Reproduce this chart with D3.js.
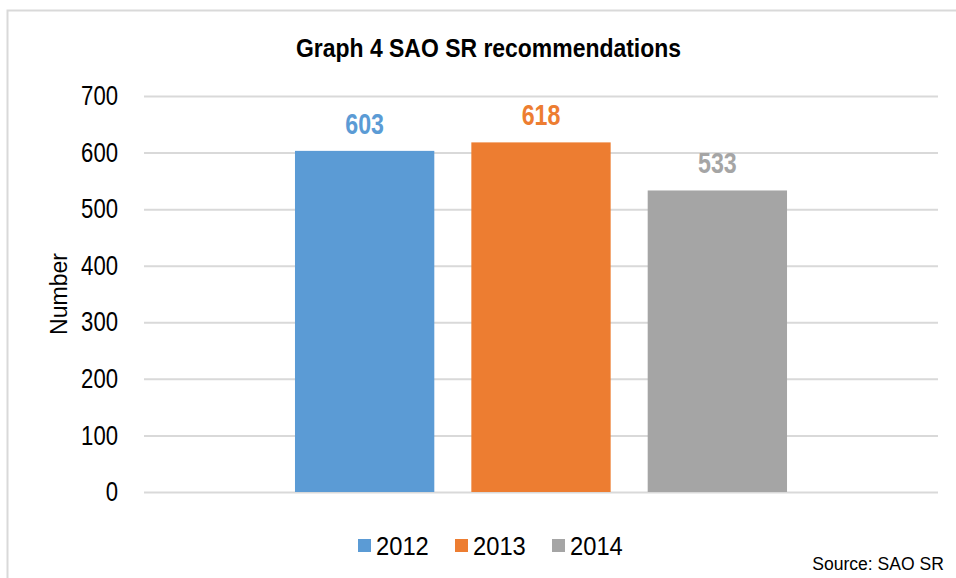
<!DOCTYPE html>
<html lang="en">
<head>
    <meta charset="UTF-8">
    <title>Graph 4 SAO SR recommendations</title>
    <script src="https://cdnjs.cloudflare.com/ajax/libs/d3/7.8.5/d3.min.js"></script>
    <style>
        body {
            margin: 0;
            background: white;
            font-family: "Liberation Sans", Arial, sans-serif;
        }
        .grid line { stroke: #d9d9d9; stroke-width: 2px; }
        .grid path { display: none; }
        .y-axis path, .y-axis line { display: none; }
        .y-axis text { font-size: 27px; fill: #000; }
    </style>
</head>
<body>
    <div id="chart"></div>

    <script>
        // data
        const years = ["2012", "2013", "2014"];
        const values = [603, 618, 533];
        const colors = ["#5b9bd5", "#ed7d31", "#a5a5a5"];
        const yTicks = [0, 100, 200, 300, 400, 500, 600, 700];

        const width = 956, height = 578;
        const margin = { top: 96, right: 18, bottom: 86, left: 144 };

        // the original uses a narrow font, so text gets squeezed horizontally
        const narrow = 0.82;

        const svg = d3.select("#chart")
            .append("svg")
            .attr("width", width)
            .attr("height", height);

        // outer frame (runs off the right and bottom of the image)
        svg.append("rect")
            .attr("x", 7.5)
            .attr("y", 10.5)
            .attr("width", width + 20)
            .attr("height", height + 20)
            .attr("fill", "none")
            .attr("stroke", "#d9d9d9")
            .attr("stroke-width", 2);

        const y = d3.scaleLinear()
            .domain([0, 700])
            .range([height - margin.bottom, margin.top]);

        // one category holding the three year series
        const xOuter = d3.scaleBand()
            .domain([""])
            .range([margin.left, width - margin.right])
            .padding(0.2348);

        const x = d3.scaleBand()
            .domain(years)
            .range([xOuter(""), xOuter("") + xOuter.bandwidth()])
            .paddingInner(0.21)
            .paddingOuter(0);

        // gridlines
        svg.append("g")
            .attr("class", "grid")
            .attr("transform", `translate(${margin.left},0)`)
            .call(d3.axisLeft(y).tickValues(yTicks)
                .tickSize(-(width - margin.left - margin.right)).tickFormat(""));

        // y axis labels
        svg.append("g")
            .attr("class", "y-axis")
            .attr("transform", `translate(${margin.left - 26},0)`)
            .call(d3.axisLeft(y).tickValues(yTicks).tickSize(0).tickPadding(0))
            .selectAll(".tick text")
            .attr("transform", `scale(${narrow},1)`);

        svg.append("text")
            .attr("transform", `translate(67, ${(y(0) + y(700)) / 2}) rotate(-90)`)
            .attr("text-anchor", "middle")
            .attr("font-size", "23px")
            .text("Number");

        // bars
        svg.append("g")
            .selectAll("rect")
            .data(years)
            .join("rect")
            .attr("x", d => x(d))
            .attr("y", (d, i) => y(values[i]))
            .attr("width", x.bandwidth())
            .attr("height", (d, i) => y(0) - y(values[i]))
            .attr("fill", (d, i) => colors[i]);

        // value labels
        svg.append("g")
            .selectAll("text")
            .data(years)
            .join("text")
            .attr("transform", (d, i) =>
                `translate(${x(d) + x.bandwidth() / 2},${y(values[i]) - 17}) scale(0.8,1)`)
            .attr("text-anchor", "middle")
            .attr("font-size", "29px")
            .attr("font-weight", "bold")
            .attr("fill", (d, i) => colors[i])
            .text((d, i) => values[i]);

        // title
        svg.append("text")
            .attr("transform", "translate(488.5,56.5) scale(0.9,1)")
            .attr("text-anchor", "middle")
            .attr("font-size", "25.5px")
            .attr("font-weight", "bold")
            .text("Graph 4 SAO SR recommendations");

        // legend
        const legend = svg.append("g")
            .attr("transform", "translate(358, 546)");

        const item = legend.selectAll("g")
            .data(years)
            .join("g")
            .attr("transform", (d, i) => `translate(${i * 97},0)`);

        item.append("rect")
            .attr("x", 0)
            .attr("y", -7)
            .attr("width", 13)
            .attr("height", 13)
            .attr("fill", (d, i) => colors[i]);

        item.append("text")
            .attr("transform", "translate(18,9) scale(0.95,1)")
            .attr("font-size", "25px")
            .text(d => d);

        // source note
        svg.append("text")
            .attr("transform", "translate(944,570) scale(0.95,1)")
            .attr("text-anchor", "end")
            .attr("font-size", "18.5px")
            .text("Source: SAO SR");
    </script>
</body>
</html>
